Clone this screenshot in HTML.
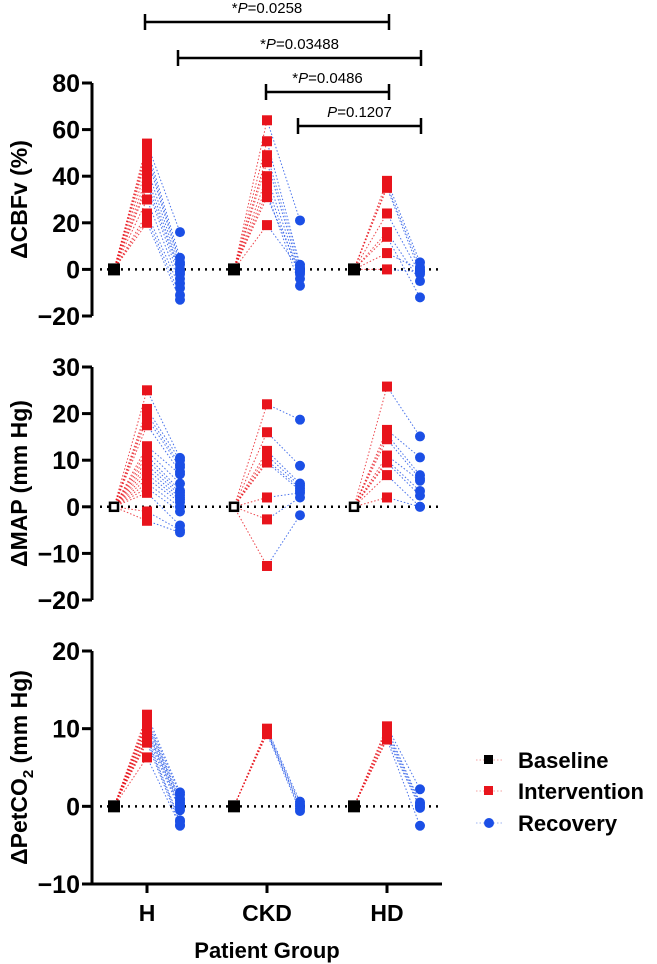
<!DOCTYPE html>
<html><head><meta charset="utf-8"><style>
html,body{margin:0;padding:0;background:#fff;}
svg{display:block;font-family:"Liberation Sans",Arial,sans-serif;}
</style></head><body>
<svg id="chart" width="657" height="964" viewBox="0 0 657 964" xmlns="http://www.w3.org/2000/svg">
<g id="brackets" fill="none" stroke="#000" stroke-width="2.5"></g>
<g id="legend"></g>
</svg>
<script>
const groups = ["H","CKD","HD"];
// Panel 1: ΔCBFv (%)
const cbfInt = [[54,52,50,48,44,40,37,35,30,24,22,20],[64,55,49,46,40,36,33,31,19],[38,36,35,24,16,14,7,0]];
const cbfRec = [[16,5,3,2,0,-1,-2,-4,-6,-8,-11,-13],[21,2,1,-1,-2,-4,-7,-1,0],[3,1,-1,-2,-5,-12,0,-1]];
const cbfTicks = [80,60,40,20,0,-20];
// Panel 2: ΔMAP
const mapInt = [[25,21,20,19,17.5,13,12,11,10,9,8,7,6,5,4,3,-1,-3],[22,16,12,11,10,9.5,2,-2.7,-12.7],[25.8,16.5,15.5,14.5,11,10,9.5,6.8,2]];
const mapRec = [[10.5,10,9,8.5,7.5,7,5,3.5,3,2.5,2,1.5,1,0,-1,-4,-5,-5.5],[18.7,8.8,5,4.5,4,3.5,3,2,-1.8],[15.1,10.6,6.8,6,5.6,3.4,2.4,0,0]];
const mapTicks = [30,20,10,0,-10,-20];
// Panel 3: ΔPetCO2
const co2Int = [[11.8,11.3,11,10.7,10.5,10,9.8,9.5,9,8.8,8.5,8.2,6.3],[10,9.8,9.6,9.5,9.3],[10.3,10,9.6,9.2,8.8,8.6]];
const co2Rec = [[1.8,1.5,1,0.8,0.5,0.3,0,-0.2,-0.5,-1.8,-2,-2.4,-2.5],[0.6,0.3,0,-0.3,-0.6],[2.2,0.5,0.3,0,-0.2,-2.5]];
const co2Ticks = [20,10,0,-10];
const pLabels = ["0.0258","0.03488","0.0486","0.1207"];
const pStars = [true,true,true,false];

const NS="http://www.w3.org/2000/svg";
const svg=document.getElementById('chart');
function el(t,a,p){const e=document.createElementNS(NS,t);for(const k in a)e.setAttribute(k,a[k]);(p||svg).appendChild(e);return e;}
const baseX=[114,234,354], intX=[147,267,387], recX=[180,300,420];
const RED="#e8141c", BLUE="#1b4fe6";

function panel(name,title,sub,top,bot,vmax,vmin,ticks,ints,recs,openBase,xAxis){
  const g=el('g',{});
  
  
  const y=v=>top+(vmax-v)/(vmax-vmin)*(bot-top);
  const ax=el('line',{x1:92,y1:top,x2:92,y2:bot,stroke:'#000','stroke-width':3},g);
  
  
  ticks.forEach(t=>{
    el('line',{x1:82,y1:y(t),x2:92,y2:y(t),stroke:'#000','stroke-width':3},g);
    const tx=el('text',{x:80,y:y(t)+9,'text-anchor':'end','font-size':25,'font-weight':'bold'},g);
    tx.textContent=(t<0?'\u2212'+(-t):t);
    
    
  });
  const cy=(top+bot)/2;
  const tt=el('text',{x:0,y:0,transform:`translate(27,${cy}) rotate(-90)`,'text-anchor':'middle','font-size':23,'font-weight':'bold'},g);
  tt.innerHTML=title+(sub?'<tspan font-size="15" dy="6">2</tspan><tspan dy="-6"> (mm Hg)</tspan>':'');
  
  
  const z=el('line',{x1:100,y1:y(0),x2:440,y2:y(0),stroke:'#000','stroke-width':2.5,'stroke-dasharray':'2 5'},g);
  
  
  for(let gi=0;gi<3;gi++){
    ints[gi].forEach((v,i)=>{
      el('line',{x1:baseX[gi],y1:y(0),x2:intX[gi],y2:y(v),stroke:RED,'stroke-width':1,'stroke-dasharray':'1.5 2','opacity':0.8},g);
      const r=recs[gi][i];
      if(r!==undefined) el('line',{x1:intX[gi],y1:y(v),x2:recX[gi],y2:y(r),stroke:BLUE,'stroke-width':1,'stroke-dasharray':'1.5 2','opacity':0.8},g);
    });
    ints[gi].forEach(v=>{
      const m=el('rect',{x:intX[gi]-5,y:y(v)-5,width:10,height:10,fill:RED},g);
      
      
    });
    recs[gi].forEach(v=>{
      const m=el('circle',{cx:recX[gi],cy:y(v),r:5,fill:BLUE},g);
      
      
    });
    const b=openBase?el('rect',{x:baseX[gi]-4,y:y(0)-4,width:8,height:8,fill:'#fff',stroke:'#000','stroke-width':2.5},g)
                    :el('rect',{x:baseX[gi]-6,y:y(0)-6,width:12,height:12,fill:'#000'},g);
    
    
  }
  if(xAxis){
    const xa=el('line',{x1:92,y1:bot,x2:442,y2:bot,stroke:'#000','stroke-width':3},g);
    
    
    groups.forEach((c,i)=>{
      el('line',{x1:intX[i],y1:bot,x2:intX[i],y2:bot+9,stroke:'#000','stroke-width':3},g);
      const t=el('text',{x:intX[i],y:bot+37,'text-anchor':'middle','font-size':23,'font-weight':'bold'},g);
      t.textContent=c;
      
      
    });
    const xt=el('text',{x:267,y:bot+74,'text-anchor':'middle','font-size':22,'font-weight':'bold'},g);
    xt.textContent='Patient Group';
    
    
  }
}
panel('cbfv','\u0394CBFv (%)',false,83,316,80,-20,cbfTicks,cbfInt,cbfRec,false,false);
panel('map','\u0394MAP (mm Hg)',false,367,600,30,-20,mapTicks,mapInt,mapRec,true,false);
panel('petco2','\u0394PetCO',true,651,884,20,-10,co2Ticks,co2Int,co2Rec,false,true);

// brackets
const bg=document.getElementById('brackets');
const br=[[145,389,22],[178,421,58],[266,389,92],[298,421,126]];
br.forEach((b,i)=>{
  el('path',{d:`M${b[0]},${b[2]-8}V${b[2]+8}M${b[0]},${b[2]}H${b[1]}M${b[1]},${b[2]-8}V${b[2]+8}`},bg);
  const t=el('text',{x:(b[0]+b[1])/2,y:b[2]-9,'text-anchor':'middle','font-size':15,fill:'#000',stroke:'none'},bg);
  t.innerHTML=(pStars[i]?'*':'')+'<tspan font-style="italic">P</tspan>='+pLabels[i];
  
  
});

// legend
const lg=document.getElementById('legend');
const items=[["Baseline","#000",'rect',766],["Intervention",RED,'rect',797],["Recovery",BLUE,'circle',829]];
items.forEach(it=>{
  el('line',{x1:476,y1:it[3]-6,x2:502,y2:it[3]-6,stroke:it[0]==="Recovery"?"#9db3f0":"#f4a0a0",'stroke-width':1,'stroke-dasharray':'1.5 2'},lg);
  if(it[2]==='rect') el('rect',{x:484,y:it[3]-11,width:9,height:9,fill:it[1]},lg);
  else el('circle',{cx:489,cy:it[3]-6,r:5,fill:it[1]},lg);
  const t=el('text',{x:518,y:it[3]+2,'font-size':22,'font-weight':'bold'},lg);
  t.textContent=it[0];
  
  
});
</script>
</body></html>
